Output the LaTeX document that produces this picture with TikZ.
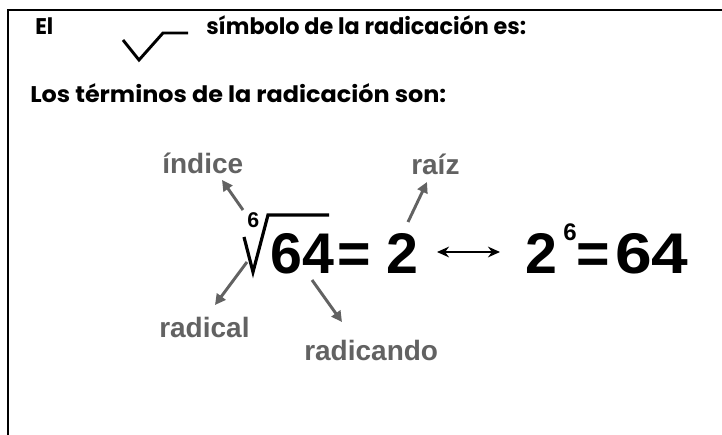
\documentclass[tikz,border=0pt]{standalone}
\usepackage{graphicx}
\usepackage{fontspec}
\setmainfont{Liberation Sans}
\newfontfamily\comicfont{Poppins}
\usetikzlibrary{arrows.meta}
\definecolor{lblgray}{RGB}{98,98,98}
\newcommand{\fitwidth}[2]{\resizebox{#1}{\height}{#2}}
\begin{document}
\begin{tikzpicture}[x=0.75pt,y=-0.75pt,
  hdr/.style={font=\comicfont\bfseries\fontsize{17}{20}\selectfont, anchor=base west, inner sep=0},
  lbl/.style={font=\bfseries\fontsize{21}{24}\selectfont, text=lblgray, anchor=base west, inner sep=0},
  big/.style={font=\bfseries\fontsize{43}{48}\selectfont, anchor=base west, inner sep=0},
  small6/.style={font=\bfseries\fontsize{#1}{#1}\selectfont, anchor=base west, inner sep=0},
  ptr/.style={draw=lblgray, line width=2.2pt, -{Triangle[length=8pt,width=8pt]}},
]
\useasboundingbox (0,0) rectangle (722,435);
\fill[white] (0,0) rectangle (722,435);
% frame
\coordinate (fbl) at (8,435);
\coordinate (ftl) at (8,10);
\coordinate (ftr) at (722,10);
\draw[line width=1.5pt] (fbl) -- (ftl) -- (ftr);
% header
\node[hdr] (el) at (35,35) {\fitwidth{13.5pt}{El}};
\coordinate (ck1) at (123,40);
\coordinate (ck2) at (139,60);
\coordinate (ck3) at (163,33);
\coordinate (ck4) at (188,33);
\draw[line width=2.2pt, line join=miter] (ck1) -- (ck2) -- (ck3) -- (ck4);
\node[hdr] (simb) at (206,35) {\fitwidth{240pt}{símbolo de la radicación es:}};
\node[hdr] (los) at (30,103) {\fitwidth{312pt}{Los términos de la radicación son:}};
% formula
\coordinate (rd1) at (244,237);
\coordinate (rd2) at (253,272);
\coordinate (rd3) at (268,215);
\coordinate (rd4) at (329,215);
\draw[line width=2.4pt, line join=miter] (rd1) -- (rd2) -- (rd3) -- (rd4);
\node[small6=16] (idx) at (247,228) {6};
\node[big] (r64) at (270,273) {64};
\node[big] (eq1) at (337,273) {=};
\node[big] (two1) at (386,273) {2};
\coordinate (da1) at (437,252);
\coordinate (da2) at (500,252);
\draw[line width=2pt, {Stealth[length=9pt,width=8pt]}-{Stealth[length=9pt,width=8pt]}] (da1) -- (da2);
\node[big] (two2) at (525,273) {2};
\node[small6=18] (sup6) at (563,240) {6};
\node[big] (eq2) at (576,273) {=};
\node[big] (r64b) at (615,273) {\fitwidth{55pt}{64}};
% labels
\node[lbl] (indice) at (162,173) {índice};
\node[lbl] (raiz) at (411,175) {raíz};
\node[lbl] (radical) at (159,337) {radical};
\node[lbl] (radicando) at (304,360) {radicando};
% pointers
\coordinate (p1s) at (243,210); \coordinate (p1e) at (222,180);
\coordinate (p2s) at (408,222); \coordinate (p2e) at (427,182);
\coordinate (p3s) at (247,262); \coordinate (p3e) at (215,305);
\coordinate (p4s) at (312,280); \coordinate (p4e) at (342,322);
\draw[ptr] (p1s) -- (p1e);
\draw[ptr] (p2s) -- (p2e);
\draw[ptr] (p3s) -- (p3e);
\draw[ptr] (p4s) -- (p4e);
\end{tikzpicture}
\end{document}
